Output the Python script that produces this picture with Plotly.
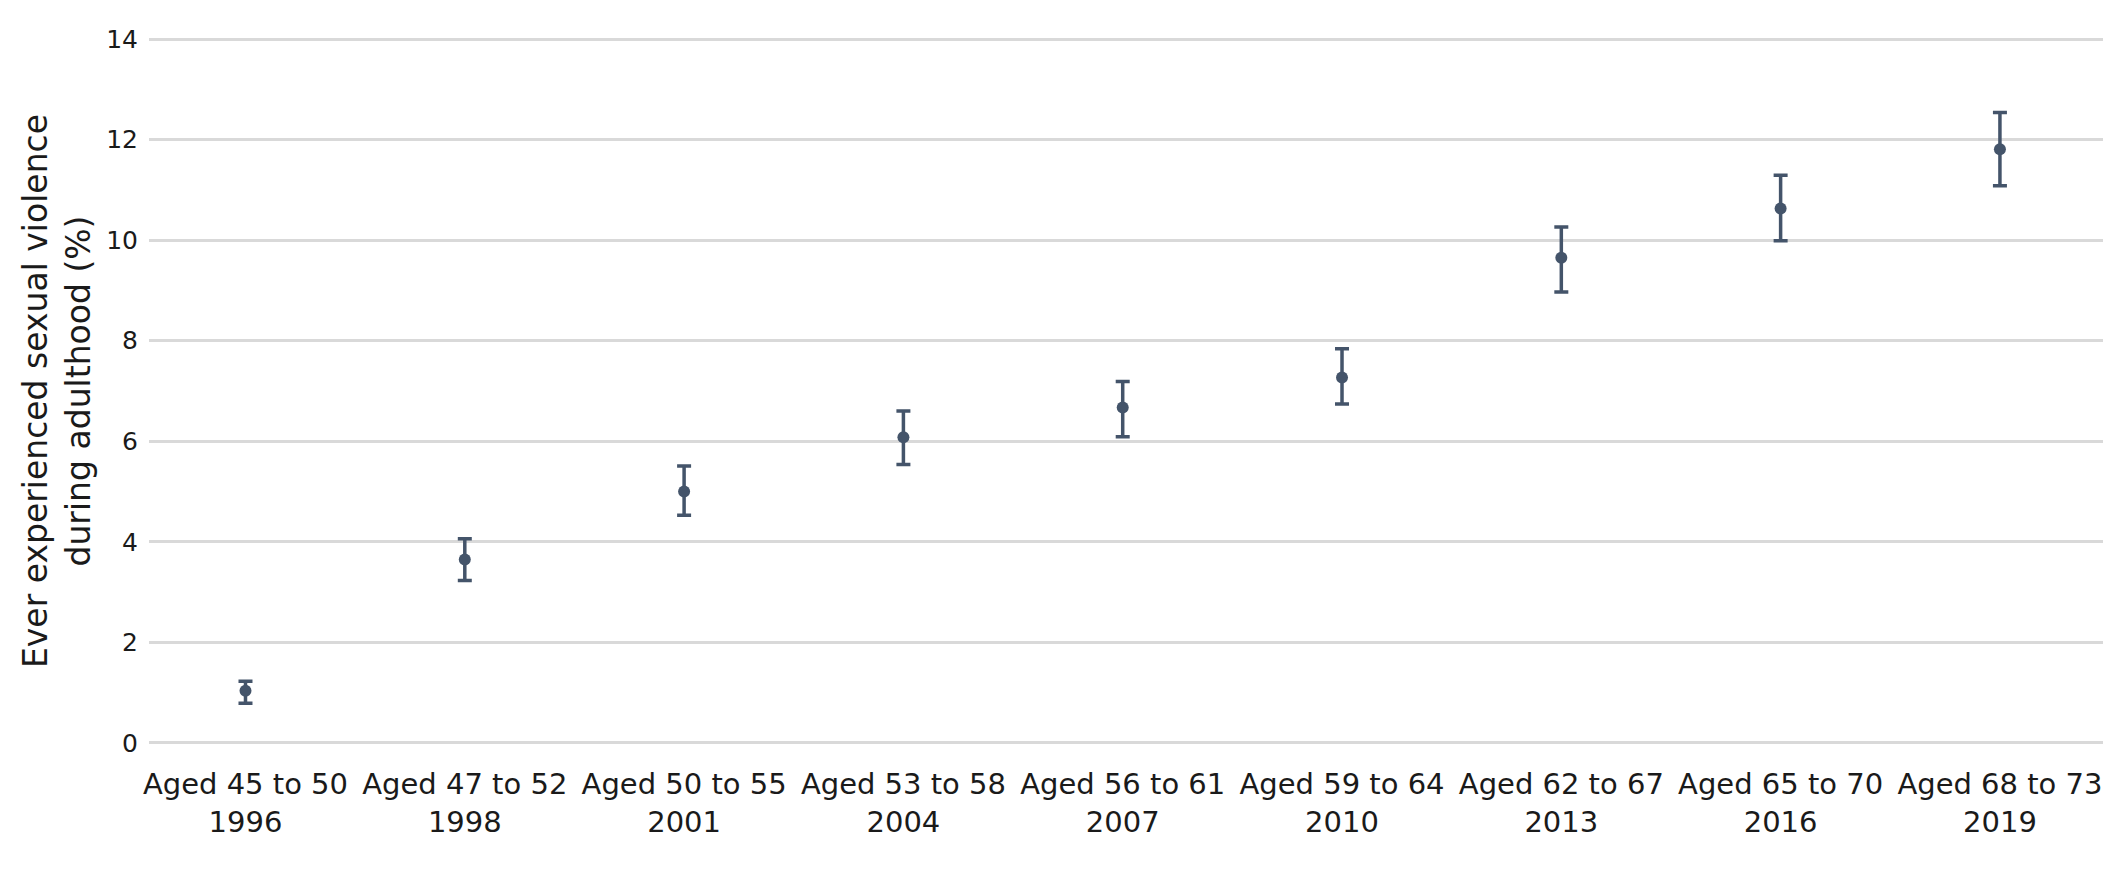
import plotly.graph_objects as go

categories = ["Aged 45 to 50<br>1996", "Aged 47 to 52<br>1998", "Aged 50 to 55<br>2001",
              "Aged 53 to 58<br>2004", "Aged 56 to 61<br>2007", "Aged 59 to 64<br>2010",
              "Aged 62 to 67<br>2013", "Aged 65 to 70<br>2016", "Aged 68 to 73<br>2019"]
estimate = [1.04, 3.65, 5.00, 6.08, 6.67, 7.27, 9.65, 10.63, 11.81]
lower = [0.79, 3.23, 4.53, 5.54, 6.09, 6.74, 8.97, 9.99, 11.08]
upper = [1.23, 4.06, 5.51, 6.60, 7.19, 7.84, 10.26, 11.29, 12.54]
y_ticks = [0, 2, 4, 6, 8, 10, 12, 14]
y_title = "Ever experienced sexual violence<br>during adulthood (%)"

color = "#44546a"
font = "DejaVu Sans"

fig = go.Figure(go.Scatter(
    x=categories, y=estimate, mode="markers",
    marker=dict(color=color, size=12),
    error_y=dict(type="data", symmetric=False,
                 array=[u - e for u, e in zip(upper, estimate)],
                 arrayminus=[e - l for e, l in zip(estimate, lower)],
                 color=color, thickness=3.5, width=7),
    showlegend=False,
))

fig.update_layout(
    width=2118, height=886,
    margin=dict(l=141, r=23, t=26, b=146, autoexpand=False),
    paper_bgcolor="white", plot_bgcolor="white",
    font=dict(family=font, color="#1a1a1a"),
    xaxis=dict(type="category", range=[-0.44, 8.47], showgrid=False, showline=False,
               zeroline=False, ticks="", tickfont=dict(size=29), ticklabelstandoff=16),
    yaxis=dict(range=[-0.1, 14.1], tickvals=y_ticks, showgrid=True, gridcolor="#d9d9d9",
               gridwidth=2.5, zeroline=False, showline=False, ticks="",
               tickfont=dict(size=25), ticklabelstandoff=10,
               title=dict(text=y_title, font=dict(size=33), standoff=5)),
)

fig.write_html("out.html")
